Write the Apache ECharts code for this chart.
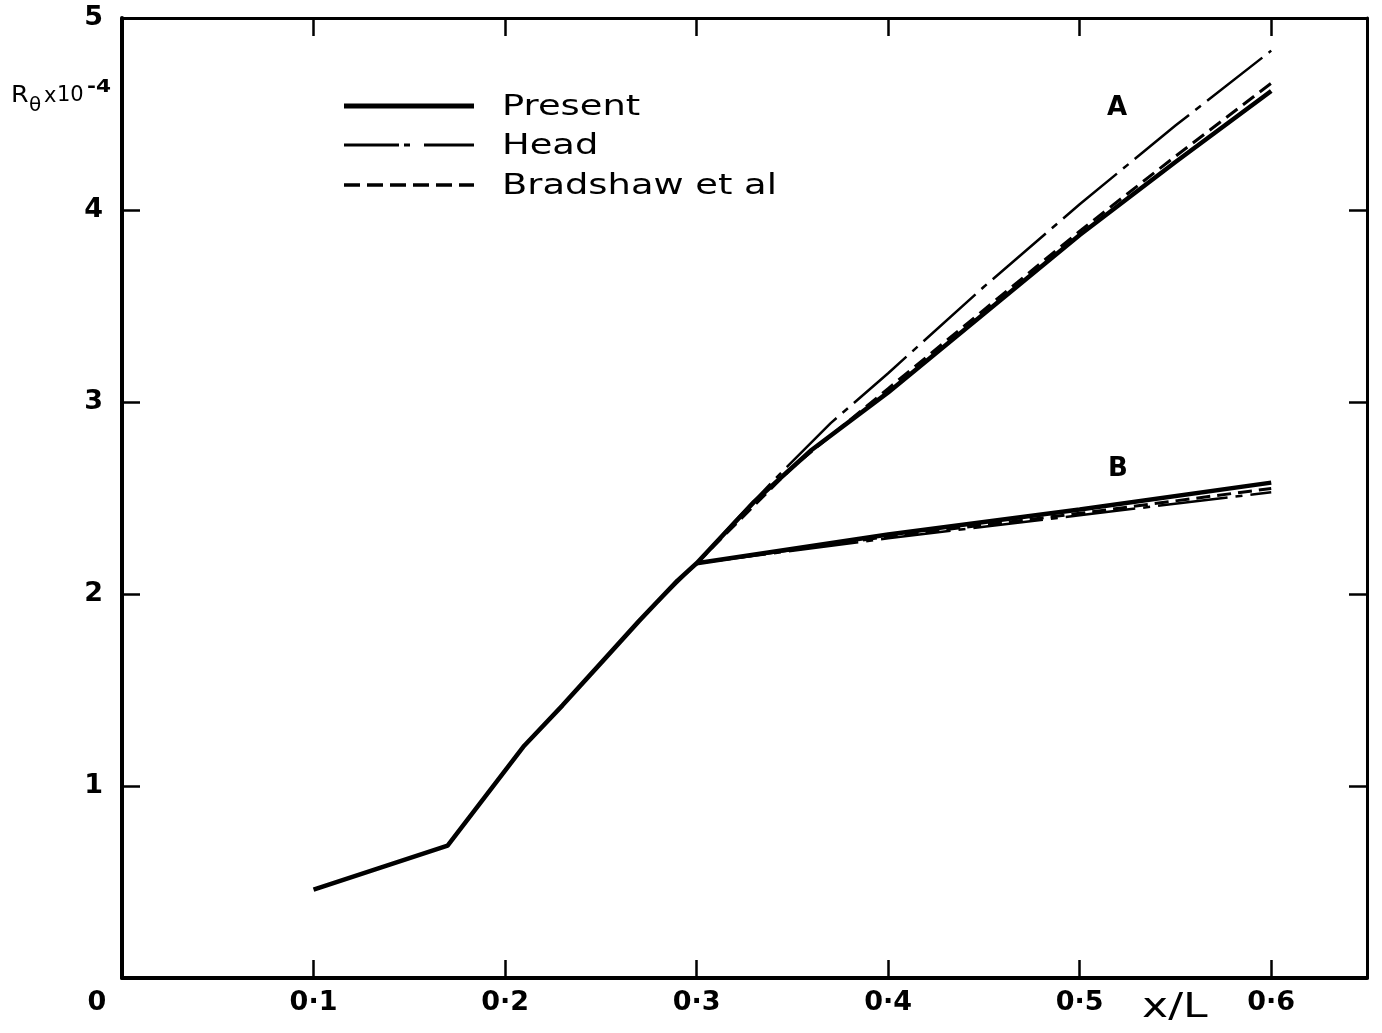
<!DOCTYPE html>
<html><head><meta charset="utf-8">
<script src="https://cdn.jsdelivr.net/npm/echarts@6/dist/echarts.min.js"></script>
<style>html,body{margin:0;padding:0;background:#fff}#c{width:1382px;height:1033px}</style>
</head><body><div id="c"></div>
<script>
// ---- data (x/L, R_theta x 10^-4) ----
const xTicks = [0, 0.1, 0.2, 0.3, 0.4, 0.5, 0.6];
const xTickLabels = ['0', '0·1', '0·2', '0·3', '0·4', '0·5', '0·6'];
const yTickLabels = ['', '1', '2', '3', '4', '5'];
const legendNames = ['Present', 'Head', 'Bradshaw et al'];
const curveLabels = ['A', 'B'];
const yNameParts = ['R', 'θ', 'x', '10', '-4'];
const xName = 'x/L';

const presentCommon = [[0.1,0.46],[0.17,0.69],[0.19,0.95],[0.21,1.21],[0.23,1.42],[0.25,1.64],[0.27,1.86],[0.29,2.07],[0.3,2.16]];
const presentA = [[0.3,2.16],[0.33,2.48],[0.36,2.75],[0.4,3.05],[0.45,3.46],[0.5,3.87],[0.55,4.25],[0.6,4.62]];
const presentB = [[0.3,2.16],[0.4,2.31],[0.5,2.44],[0.6,2.58]];
const headA = [[0.28,1.96],[0.3,2.16],[0.32,2.38],[0.34,2.59],[0.37,2.89],[0.4,3.15],[0.45,3.6],[0.5,4.03],[0.55,4.44],[0.6,4.83]];
const headB = [[0.3,2.16],[0.4,2.29],[0.5,2.41],[0.6,2.53]];
const bradA = [[0.3,2.16],[0.35,2.66],[0.4,3.07],[0.45,3.48],[0.5,3.89],[0.55,4.28],[0.6,4.66]];
const bradB = [[0.3,2.16],[0.4,2.30],[0.5,2.42],[0.6,2.55]];

const FONT = 'DejaVu Sans';
const chart = echarts.init(document.getElementById('c'), null, {renderer: 'canvas'});

const presentStyle = {color: '#000', width: 4.5, type: 'solid'};
const headStyle = {color: '#000', width: 2.5, type: [70, 8, 7, 8]};
const bradStyle = {color: '#000', width: 3, type: [14, 7]};

function mk(name, data, ls, z) {
  return {type: 'line', name: name, data: data, symbol: 'none', showSymbol: false,
    smooth: false, lineStyle: ls, itemStyle: {color: '#000'}, z: z, silent: true};
}

const xFmt = function (v) {
  const i = Math.round(v * 10);
  if (Math.abs(v * 10 - i) > 1e-6 || i < 0 || i >= xTickLabels.length) return '';
  if (i === 0) return '{z|' + xTickLabels[0] + '}';
  return xTickLabels[i];
};

const tickFont = {fontFamily: FONT, fontSize: 27, fontWeight: 'bold', color: '#000'};

// legend drawn as graphic elements (line sample + label)
const legendRows = [
  {name: legendNames[0], y: 106, lw: 5, dash: null},
  {name: legendNames[1], y: 145, lw: 3, dash: [55, 5, 6, 14]},
  {name: legendNames[2], y: 185, lw: 3.5, dash: [16, 7]}
];
const legendGraphics = [];
legendRows.forEach(function (r) {
  legendGraphics.push({type: 'line', shape: {x1: 344, y1: r.y, x2: 474, y2: r.y},
    style: {stroke: '#000', lineWidth: r.lw, lineDash: r.dash || null}, z: 10, silent: true});
  legendGraphics.push({type: 'text', x: 502, y: r.y + 1, scaleX: 1.27, style: {
    text: r.name, fontFamily: FONT, fontSize: 29, fill: '#000', verticalAlign: 'middle', align: 'left'}, z: 10, silent: true});
});

function txt(s, x, y, size, opts) {
  opts = opts || {};
  return {type: 'text', x: x, y: y, scaleX: opts.sx || 1, silent: true, style: {
    text: s, fontFamily: FONT, fontSize: size, fontWeight: opts.bold ? 'bold' : 'normal',
    fill: '#000', align: opts.align || 'left', verticalAlign: 'middle'}};
}

chart.setOption({
  backgroundColor: '#fff',
  animation: false,
  grid: {left: 122, right: 15, top: 18, bottom: 55, containLabel: false},
  xAxis: [
    {type: 'value', min: 0, max: 0.65, interval: 0.1, position: 'bottom',
     axisLine: {show: true, onZero: false, lineStyle: {color: '#000', width: 4}},
     axisTick: {show: true, inside: true, length: 18, lineStyle: {color: '#000', width: 2.5}},
     axisLabel: Object.assign({show: true, margin: 11, formatter: xFmt,
       rich: {z: Object.assign({padding: [0, 50, 0, 0]}, tickFont)}}, tickFont),
     splitLine: {show: false}},
    {type: 'value', min: 0, max: 0.65, interval: 0.1, position: 'top',
     axisLine: {show: true, onZero: false, lineStyle: {color: '#000', width: 3}},
     axisTick: {show: true, inside: true, length: 18, lineStyle: {color: '#000', width: 2.5}},
     axisLabel: {show: false}, splitLine: {show: false}}
  ],
  yAxis: [
    {type: 'value', min: 0, max: 5, interval: 1, position: 'left',
     axisLine: {show: true, onZero: false, lineStyle: {color: '#000', width: 4}},
     axisTick: {show: true, inside: true, length: 18, lineStyle: {color: '#000', width: 2.5}},
     axisLabel: Object.assign({show: true, margin: 19, formatter: function (v) { return yTickLabels[Math.round(v)] || ''; }}, tickFont),
     splitLine: {show: false}},
    {type: 'value', min: 0, max: 5, interval: 1, position: 'right',
     axisLine: {show: true, onZero: false, lineStyle: {color: '#000', width: 3}},
     axisTick: {show: true, inside: true, length: 18, lineStyle: {color: '#000', width: 2.5}},
     axisLabel: {show: false}, splitLine: {show: false}}
  ],
  series: [
    mk(legendNames[1], headA, headStyle, 2),
    mk(legendNames[1], headB, headStyle, 2),
    mk(legendNames[2], bradA, bradStyle, 3),
    mk(legendNames[2], bradB, bradStyle, 3),
    mk(legendNames[0], presentCommon.concat(presentA.slice(1)), presentStyle, 4),
    mk(legendNames[0], presentB, presentStyle, 4)
  ],
  graphic: legendGraphics.concat([
    txt(yNameParts[0], 11, 96, 23, {sx: 1.1}),
    txt(yNameParts[1], 29, 106, 20),
    txt(yNameParts[2], 44, 97, 21),
    txt(yNameParts[3], 57, 96, 21),
    txt(yNameParts[4], 87, 87, 18, {sx: 1.2, bold: true}),
    txt(xName, 1142, 1008, 34, {sx: 1.3}),
    txt(curveLabels[0], 1117, 108, 26, {bold: true, align: 'center'}),
    txt(curveLabels[1], 1118, 469, 26, {bold: true, align: 'center'})
  ])
});
</script>
</body></html>
